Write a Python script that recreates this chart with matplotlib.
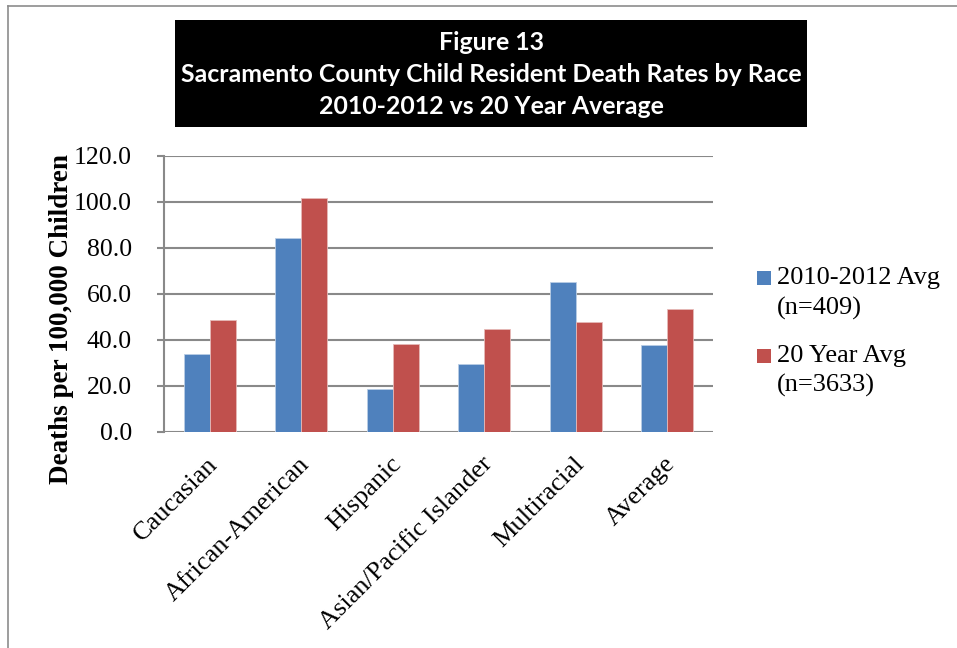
import matplotlib
matplotlib.use("Agg")
import matplotlib.pyplot as plt
from matplotlib.patches import Rectangle
from matplotlib.lines import Line2D
from matplotlib.transforms import ScaledTranslation
import numpy as np

categories = ["Caucasian", "African-American", "Hispanic",
              "Asian/Pacific Islander", "Multiracial", "Average"]
recent_avg = [34.0, 84.2, 18.5, 29.7, 65.4, 37.9]
twenty_year_avg = [48.5, 101.9, 38.4, 44.6, 48.0, 53.3]
series_labels = [["2010-2012 Avg", "(n=409)"], ["20 Year Avg", "(n=3633)"]]
title_lines = ["Figure 13",
               "Sacramento County Child Resident Death Rates by Race",
               "2010-2012 vs 20 Year Average"]
y_ticks = [0, 20, 40, 60, 80, 100, 120]

BLUE = "#4F81BD"
RED = "#C0504D"
GRID = "#898989"
SERIF = ["Liberation Serif", "DejaVu Serif"]

W, H = 957, 648
fig = plt.figure(figsize=(W / 100, H / 100), dpi=100)
fig.patch.set_facecolor("white")


def fx(px):
    return px / W


def fy(py):
    return 1 - py / H


ax = fig.add_axes([fx(164), fy(432), fx(713) - fx(164), fy(156) - fy(432)])

x = np.arange(len(categories))
bw = 0.285
ax.bar(x - bw / 2, recent_avg, bw, color=BLUE, edgecolor="#B9CDE5", linewidth=0.6, zorder=3)
ax.bar(x + bw / 2, twenty_year_avg, bw, color=RED, edgecolor="#E6B9B8", linewidth=0.6, zorder=3)

ax.set_xlim(-0.5, len(categories) - 0.5)
ax.set_ylim(0, 120)
ax.set_yticks(y_ticks)
ax.set_yticklabels([f"{v:.1f}" for v in y_ticks], fontfamily=SERIF, fontsize=18.5)
ax.yaxis.grid(True, color=GRID, linewidth=1.5, zorder=0)
ax.set_axisbelow(True)
for s in ["top", "right", "bottom"]:
    ax.spines[s].set_visible(False)
ax.spines["left"].set_color(GRID)
ax.spines["left"].set_linewidth(1.5)
ax.tick_params(axis="y", length=5, width=1.5, color=GRID, pad=18)
ax.tick_params(axis="x", length=0)

ax.set_xticks(x)
ax.set_xticklabels(categories, rotation=45, ha="right", va="top",
                   rotation_mode="anchor", fontfamily=SERIF, fontsize=19)
offset = ScaledTranslation(-3 / 100, -16 / 100, fig.dpi_scale_trans)
for lbl in ax.get_xticklabels():
    lbl.set_transform(lbl.get_transform() + offset)

fig.text(fx(61), fy(319), "Deaths per 100,000 Children", fontfamily=SERIF,
         fontsize=19.5, fontweight="bold", rotation=90, ha="center", va="center")

# title block
fig.add_artist(Rectangle((fx(175), fy(127)), fx(807) - fx(175), fy(20) - fy(127),
                         transform=fig.transFigure, facecolor="black", edgecolor="none"))
for i, line in enumerate(title_lines):
    fig.text(fx(491), fy(43 + 32 * i), line, color="white", fontsize=17.9,
             fontweight="bold", family=["Lato", "DejaVu Sans"], ha="center", va="center")

# legend
colors = [BLUE, RED]
for i, (lines, c) in enumerate(zip(series_labels, colors)):
    mid = 278 + 77.5 * i
    fig.add_artist(Rectangle((fx(757), fy(mid + 7)), fx(14), fy(0) - fy(14),
                             transform=fig.transFigure, facecolor=c, edgecolor="none"))
    fig.text(fx(777), fy(mid), lines[0], fontfamily=SERIF, fontsize=19, va="center", ha="left")
    fig.text(fx(777), fy(mid + 30), lines[1], fontfamily=SERIF, fontsize=19, va="center", ha="left")

# outer frame
frame_kw = dict(transform=fig.transFigure, color="#8C8C8C", linewidth=1.2)
fig.add_artist(Line2D([fx(8), fx(8)], [fy(6), 0], **frame_kw))
fig.add_artist(Line2D([fx(8), 1], [fy(6), fy(6)], **frame_kw))

fig.savefig("out.png", dpi=100)
